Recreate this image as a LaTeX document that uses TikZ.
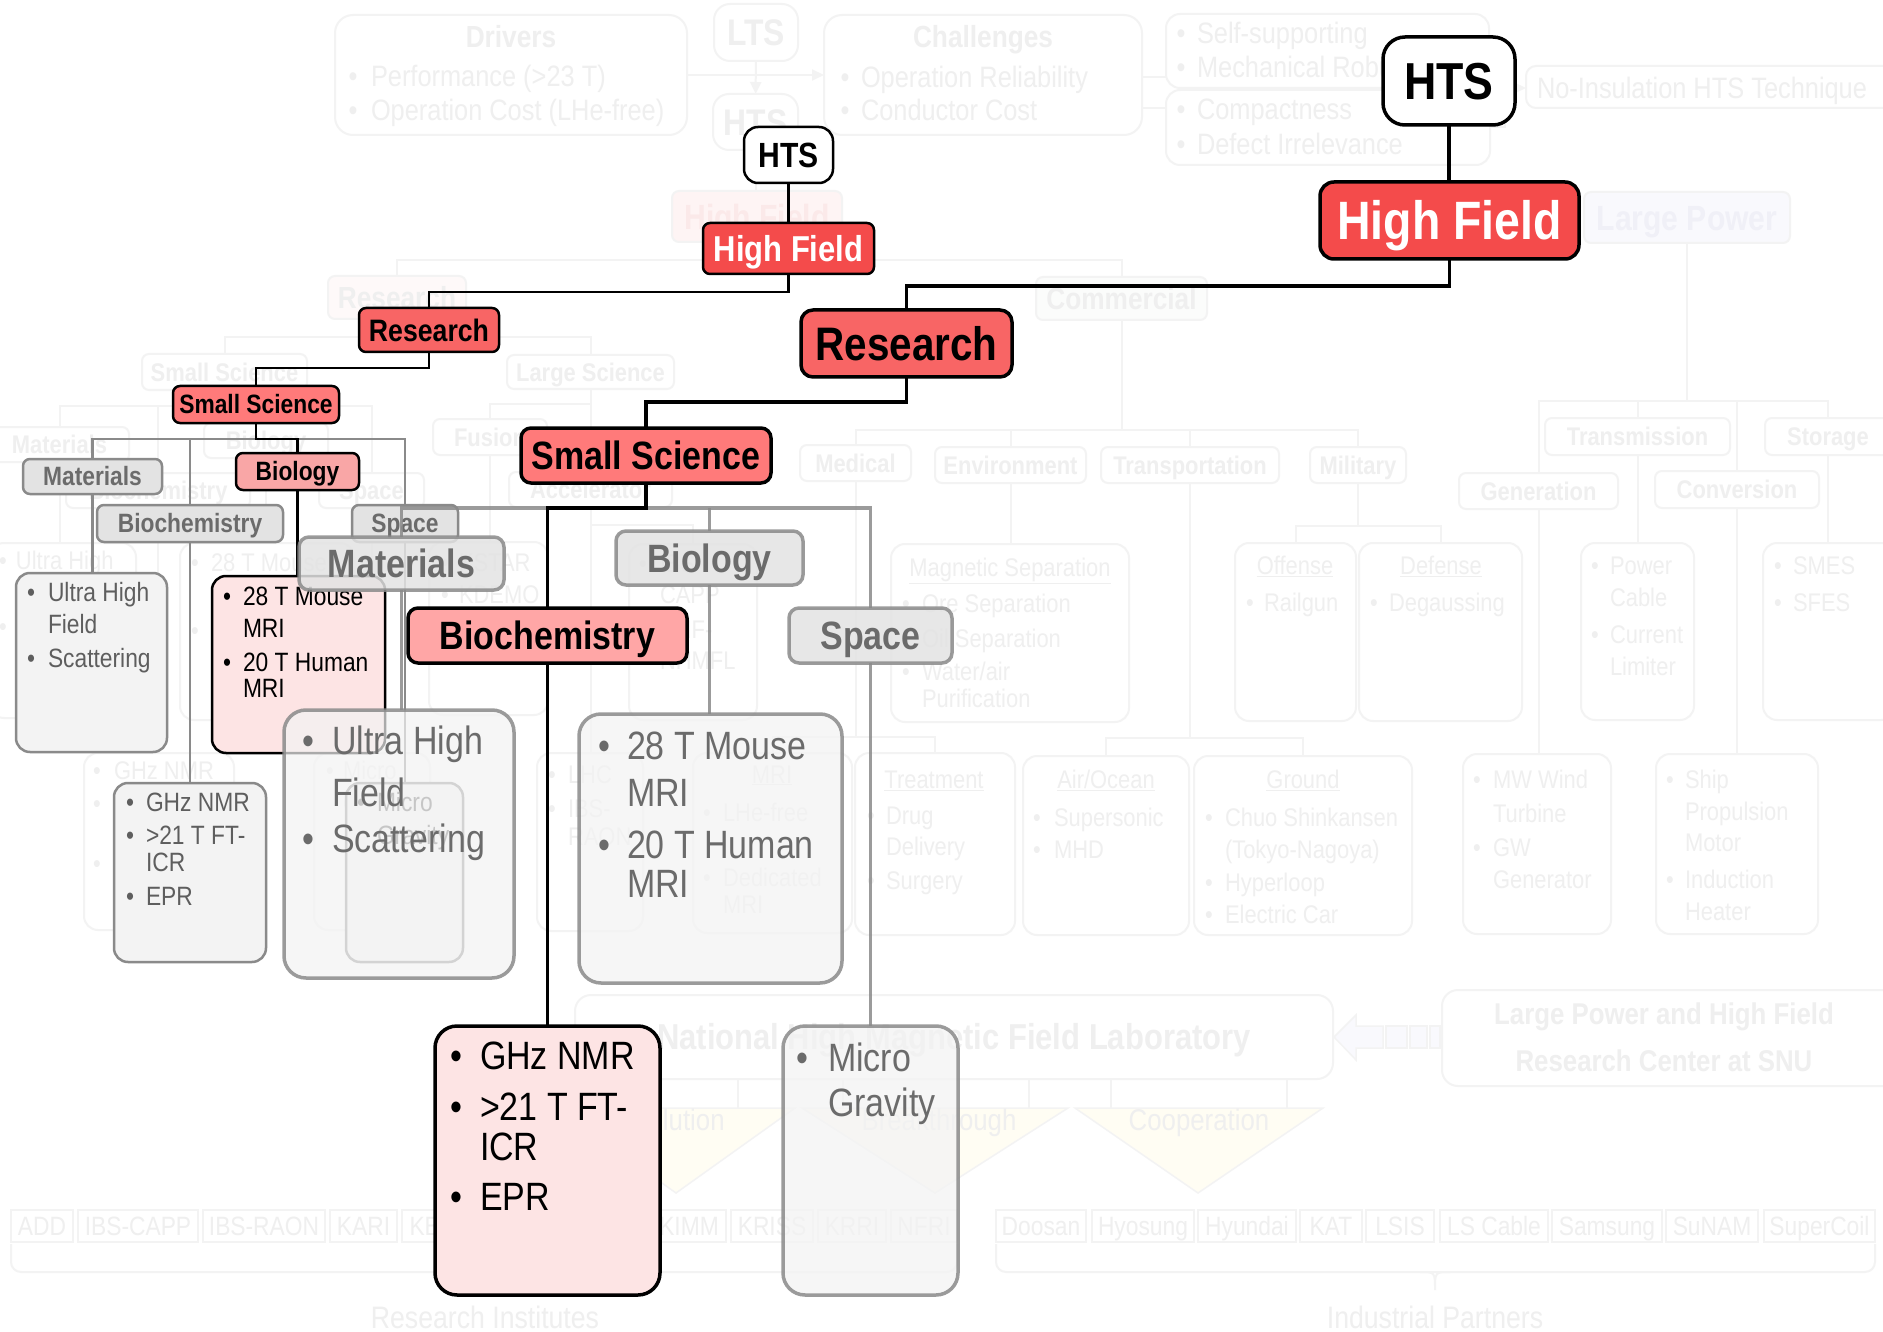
\documentclass[tikz,border=0pt]{standalone}
\usepackage{fontspec}
\setmainfont{Liberation Sans}[FakeStretch=0.86]
\usetikzlibrary{arrows.meta,calc}
\pgfdeclarelayer{L1}\pgfdeclarelayer{L2}\pgfdeclarelayer{L3}\pgfdeclarelayer{L4}
\pgfdeclarelayer{L5}\pgfdeclarelayer{L6}\pgfdeclarelayer{L7}
\pgfsetlayers{L1,L2,L3,L4,L5,L6,L7,main}
\newcommand\fsz[1]{\fontsize{#1}{#1}\selectfont}
% colours
\definecolor{hfred}{HTML}{F44B4B}
\definecolor{resred}{HTML}{F86565}
\definecolor{ssred}{HTML}{FF7A7A}
\definecolor{biopink}{HTML}{F9A6A6}
\definecolor{bcpink}{HTML}{FFA6A6}
\definecolor{detpink}{HTML}{FDE4E4}
\definecolor{gfill}{HTML}{E3E3E3}
\definecolor{gdet}{HTML}{F3F3F3}
\definecolor{gline}{HTML}{8A8A8A}
\definecolor{gtext}{HTML}{6B6B6B}
\definecolor{gtextm}{HTML}{5E5E5E}
\definecolor{ftext}{HTML}{EFEFEF}
\definecolor{fline}{HTML}{F3F3F3}
\definecolor{fpink}{HTML}{FEF4F4}
\definecolor{fpinkt}{HTML}{FBE9E9}
\definecolor{fpink2}{HTML}{FEF9F9}
\definecolor{flav}{HTML}{F9F9FD}
\definecolor{flavt}{HTML}{F0F0F7}
\definecolor{fgreen}{HTML}{FBFCFB}
\definecolor{fyel}{HTML}{FFFDF3}
% helpers: box from its edges, bullet line, continuation line
\newcounter{tl}
\newcommand\boxat[7]{\node[#1, minimum width={(#5)-(#3)}, minimum height={(#6)-(#4)}] (#2) at ({((#3)+(#5))/2},{((#4)+(#6))/2}) {#7};}
\newcommand\bul[5]{\stepcounter{tl}\node[#1,anchor=base] (b\arabic{tl}) at (#2,#4) {\textbullet};\node[#1] (t\arabic{tl}) at (#3,#4) {#5};}
\newcommand\cnt[4]{\stepcounter{tl}\node[#1] (t\arabic{tl}) at (#2,#3) {#4};}
\tikzset{
  every node/.style={inner sep=0pt, outer sep=0pt},
  fnt/.style={font=\bfseries\fsz{#1}, text height={0.716*#1}, text depth=0pt},
  fntr/.style={font=\fsz{#1}, text height={0.716*#1}, text depth=0pt},
  % faint layer
  flbl/.style={draw=fline, line width=2pt, rounded corners=7pt, fill=white, text=ftext, fnt=25.5},
  fdet/.style={draw=fline, line width=2pt, rounded corners=14pt, fill=white},
  fcn/.style={draw=fline, line width=2pt},
  far/.style={fcn, -{Triangle[length=12pt,width=11pt]}},
  ftt/.style={text=ftext, fnt=30.5},
  ftx/.style={text=ftext, font=\fsz{25.5}, anchor=base west, yshift=-9.1pt},
  ftxb/.style={text=ftext, font=\fsz{29.5}, anchor=base west, yshift=-10.6pt},
  finst/.style={draw=fline, line width=1.5pt, text=ftext, fntr=26.5, fill=white},
  % middle layer
  mcn/.style={draw=black, line width=2.5pt},
  mcng/.style={draw=gline, line width=2.5pt},
  mlbl/.style={draw=black, line width=2.5pt, rounded corners=7pt, fnt=26.5},
  mgl/.style={mlbl, draw=gline, fill=gfill, text=gtext},
  mdet/.style={draw=gline, line width=2.5pt, rounded corners=14pt, fill=gdet},
  mdetk/.style={draw=black, line width=2.5pt, rounded corners=14pt, fill=detpink},
  mtx/.style={text=gtextm, font=\fsz{26.5}, anchor=base west, yshift=-9.5pt},
  mtxk/.style={mtx, text=black},
  % front layer
  lcn/.style={draw=black, line width=3.5pt},
  lcng/.style={draw=gline, line width=3.5pt, draw opacity=0.85},
  llbl/.style={draw=black, line width=3.5pt, rounded corners=10pt, fnt=39.5},
  lgl/.style={llbl, draw=gline, fill=gfill, text=gtext, fill opacity=0.85, draw opacity=0.85, text opacity=1},
  ldet/.style={draw=gline, line width=3.5pt, rounded corners=22pt, fill=gdet, fill opacity=0.7, draw opacity=0.85},
  ldetk/.style={draw=black, line width=3.5pt, rounded corners=22pt, fill=detpink},
  ltx/.style={text=gtext, font=\fsz{39.5}, anchor=base west, yshift=-14.1pt},
  ltxk/.style={ltx, text=black},
}
\begin{document}
\begin{tikzpicture}[x=1pt,y=-1pt]
\useasboundingbox (0,0) rectangle (1883,1332);

%================ faint overview: boxes and texts ================
\begin{pgfonlayer}{L2}
% drivers / challenges strip
\boxat{fdet,rounded corners=18pt}{drv}{335}{15}{687}{135}{}
\node[ftt] (drvT) at (511,37) {Drivers};
\bul{ftxb}{353}{371}{76}{Performance (>23 T)}
\bul{ftxb}{353}{371}{110}{Operation Cost (LHe-free)}
\boxat{flbl,fnt=37,rounded corners=16pt}{lts}{714}{4}{798}{61}{LTS}
\boxat{flbl,fnt=37,rounded corners=16pt}{htsf}{713}{94}{798}{150}{HTS}
\boxat{fdet,rounded corners=18pt}{chl}{824}{15}{1142}{135}{}
\node[ftt] (chlT) at (983,37) {Challenges};
\bul{ftxb}{845}{861}{77}{Operation Reliability}
\bul{ftxb}{845}{861}{110}{Conductor Cost}
\boxat{fdet}{self}{1166}{14}{1489}{88}{}
\bul{ftxb}{1181}{1197}{33}{Self-supporting}
\bul{ftxb}{1181}{1197}{67}{Mechanical Robustness}
\boxat{fdet}{cmp}{1166}{90}{1490}{165}{}
\bul{ftxb}{1181}{1197}{109}{Compactness}
\bul{ftxb}{1181}{1197}{144}{Defect Irrelevance}
\boxat{fdet,rounded corners=10pt}{noins}{1526}{66}{1900}{108}{}
\cnt{ftxb}{1537}{88}{No-Insulation HTS Technique}

% overview tree labels
\boxat{flbl,fnt=35,fill=fpink,text=fpinkt}{hff}{672}{191}{842}{242}{High Field}
\boxat{flbl,fnt=35,fill=flav,text=flavt}{lpf}{1584}{192}{1790}{243}{Large Power}
\boxat{flbl,fnt=30.5,fill=fpink2}{resf}{328}{276}{466}{319}{Research}
\boxat{flbl,fnt=30.5,fill=fgreen}{comf}{1036}{277}{1207}{320}{Commercial}
\boxat{flbl}{ssf}{142}{354}{307}{390}{Small Science}
\boxat{flbl}{lsf}{507}{355}{674}{389}{Large Science}
\boxat{flbl}{matf}{-10}{427}{129}{462}{Materials}
\boxat{flbl}{biof}{204}{423}{328}{458}{Biology}
\boxat{flbl}{bchf}{66}{473}{250}{508}{Biochemistry}
\boxat{flbl}{spf}{319}{473}{424}{508}{Space}
\boxat{flbl}{fusf}{433}{419}{547}{455}{Fusion}
\boxat{flbl}{accf}{509}{472}{672}{507}{Accelerator}
\boxat{flbl}{medf}{800}{445}{911}{481}{Medical}
\boxat{flbl}{envf}{935}{447}{1086}{483}{Environment}
\boxat{flbl}{trpf}{1101}{447}{1279}{483}{Transportation}
\boxat{flbl}{milf}{1310}{447}{1406}{483}{Military}
\boxat{flbl}{tmsf}{1545}{418}{1730}{455}{Transmission}
\boxat{flbl}{stof}{1765}{418}{1891}{455}{Storage}
\boxat{flbl}{genf}{1459}{473}{1618}{509}{Generation}
\boxat{flbl}{cnvf}{1655}{471}{1819}{508}{Conversion}

% overview detail boxes
\boxat{fdet}{fuhf}{-10}{543}{136}{718}{}
\bul{ftx}{3}{16}{560}{Ultra High}\cnt{ftx}{16}{592}{Field}\bul{ftx}{3}{16}{626}{Scattering}
\boxat{fdet}{fmri}{180}{543}{354}{720}{}
\bul{ftx}{195}{211}{562}{28 T Mouse}\cnt{ftx}{211}{596}{MRI}
\bul{ftx}{195}{211}{630}{20 T Human}\cnt{ftx}{211}{662}{MRI}
\boxat{fdet}{fghz}{84}{753}{234}{930}{}
\bul{ftx}{97}{114}{770}{GHz NMR}\bul{ftx}{97}{114}{803}{>21 T FT-}\cnt{ftx}{114}{833}{ICR}
\bul{ftx}{97}{114}{863}{EPR}
\boxat{fdet}{fmic}{314}{753}{430}{930}{}
\bul{ftx}{330}{343}{770}{Micro}\cnt{ftx}{343}{803}{Gravity}
\boxat{fdet}{fkst}{429}{542}{548}{715}{}
\bul{ftx}{445}{459}{562}{KSTAR}\bul{ftx}{445}{459}{594}{KDEMO}
\boxat{fdet}{fcap}{629}{544}{757}{720}{}
\bul{ftx}{643}{660}{563}{IBS-}\cnt{ftx}{660}{594}{CAPP}
\bul{ftx}{643}{660}{629}{UHF-}\cnt{ftx}{660}{660}{NHMFL}
\boxat{fdet}{flhc}{537}{753}{643}{931}{}
\bul{ftx}{552}{568}{774}{LHC}\bul{ftx}{552}{568}{808}{IBS-}\cnt{ftx}{568}{836}{RAON}
\boxat{fdet}{fmrb}{693}{753}{852}{933}{}
\cnt{ftx,anchor=base}{772}{774}{\underline{MRI}}
\bul{ftx}{707}{723}{812}{LHe-free}\bul{ftx}{707}{723}{877}{Dedicated}\cnt{ftx}{723}{904}{MRI}
\boxat{fdet}{ftrt}{855}{753}{1015}{935}{}
\cnt{ftx,anchor=base}{934}{779}{\underline{Treatment}}
\bul{ftx}{871}{886}{815}{Drug}\cnt{ftx}{886}{846}{Delivery}\bul{ftx}{871}{886}{880}{Surgery}
\boxat{fdet}{fmag}{891}{544}{1129}{722}{}
\cnt{ftx,anchor=base}{1010}{567}{\underline{Magnetic Separation}}
\bul{ftx}{906}{922}{603}{Ore Separation}\bul{ftx}{906}{922}{638}{Oil Separation}
\bul{ftx}{906}{922}{671}{Water/air}\cnt{ftx}{922}{698}{Purification}
\boxat{fdet}{foff}{1235}{543}{1356}{721}{}
\cnt{ftx,anchor=base}{1295}{565}{\underline{Offense}}\bul{ftx}{1250}{1264}{602}{Railgun}
\boxat{fdet}{fdef}{1359}{543}{1522}{721}{}
\cnt{ftx,anchor=base}{1441}{565}{\underline{Defense}}\bul{ftx}{1374}{1389}{602}{Degaussing}
\boxat{fdet}{fair}{1023}{756}{1189}{935}{}
\cnt{ftx,anchor=base}{1106}{779}{\underline{Air/Ocean}}
\bul{ftx}{1037}{1054}{817}{Supersonic}\bul{ftx}{1037}{1054}{849}{MHD}
\boxat{fdet}{fgnd}{1194}{756}{1412}{935}{}
\cnt{ftx,anchor=base}{1303}{779}{\underline{Ground}}
\bul{ftx}{1209}{1225}{817}{Chuo Shinkansen}\cnt{ftx}{1225}{849}{(Tokyo-Nagoya)}
\bul{ftx}{1209}{1225}{882}{Hyperloop}\bul{ftx}{1209}{1225}{914}{Electric Car}
\boxat{fdet}{fpow}{1581}{543}{1694}{720}{}
\bul{ftx}{1595}{1610}{565}{Power}\cnt{ftx}{1610}{597}{Cable}
\bul{ftx}{1595}{1610}{634}{Current}\cnt{ftx}{1610}{666}{Limiter}
\boxat{fdet}{fsme}{1763}{543}{1895}{720}{}
\bul{ftx}{1778}{1793}{565}{SMES}\bul{ftx}{1778}{1793}{602}{SFES}
\boxat{fdet}{fwnd}{1463}{754}{1611}{934}{}
\bul{ftx}{1477}{1493}{779}{MW Wind}\cnt{ftx}{1493}{813}{Turbine}
\bul{ftx}{1477}{1493}{847}{GW}\cnt{ftx}{1493}{879}{Generator}
\boxat{fdet}{fshp}{1656}{754}{1818}{934}{}
\bul{ftx}{1670}{1685}{779}{Ship}\cnt{ftx}{1685}{811}{Propulsion}\cnt{ftx}{1685}{842}{Motor}
\bul{ftx}{1670}{1685}{879}{Induction}\cnt{ftx}{1685}{911}{Heater}

% laboratory, centre, partners
\boxat{fdet,rounded corners=16pt,text=ftext,fnt=36}{nhm}{575}{995}{1333}{1079}{National High Magnetic Field Laboratory}
\boxat{fdet,rounded corners=16pt}{snu}{1442}{990}{1900}{1086}{}
\node[ftt,fnt=30] (snuA) at (1664,1014) {Large Power and High Field};
\node[ftt,fnt=30] (snuB) at (1664,1061) {Research Center at SNU};
\filldraw[fill=flav, draw=fline, line width=1.5pt]
  (1334,1037) -- (1356,1015) -- (1356,1026) -- (1383,1026) -- (1383,1048) -- (1356,1048) -- (1356,1060) -- cycle;
\filldraw[fill=flav, draw=fline, line width=1.5pt] (1386,1026) rectangle (1407,1048);
\filldraw[fill=flav, draw=fline, line width=1.5pt] (1410,1026) rectangle (1427,1048);
\filldraw[fill=flav, draw=fline, line width=1.5pt] (1430,1026) rectangle (1440,1048);
\filldraw[fill=fyel, draw=fline, line width=1.5pt] (557,1108) -- (795,1108) -- (676,1193) -- cycle;
\filldraw[fill=fyel, draw=fline, line width=1.5pt] (802,1108) -- (1068,1108) -- (935,1193) -- cycle;
\filldraw[fill=fyel, draw=fline, line width=1.5pt] (1075,1108) -- (1323,1108) -- (1198,1193) -- cycle;
\foreach \xs in {738,843,1029,1111,1287} {\draw[fcn] (\xs,1079) -- (\xs,1108);}
\node[text=ftext, fntr=30] (sol) at (678,1120) {Solution};
\node[text=ftext, fntr=30] (brk) at (939,1120) {Breakthrough};
\node[text=ftext, fntr=30] (coo) at (1199,1120) {Cooperation};
\foreach \a/\b/\n [count=\i] in {11/73/ADD, 78/198/IBS-CAPP, 203/325/IBS-RAON, 330/397/KARI,
   402/469/KBSI, 474/542/KERI, 547/647/KIRAMS, 652/726/KIMM, 731/813/KRISS, 818/886/KRRI, 891/957/NFRI}
  {\boxat{finst}{ri\i}{\a}{1210}{\b}{1242}{\n}}
\foreach \a/\b/\n [count=\i] in {996/1086/Doosan, 1092/1194/Hyosung, 1198/1296/Hyundai, 1300/1362/KAT,
   1366/1434/LSIS, 1440/1548/LS Cable, 1552/1662/Samsung, 1666/1758/SuNAM, 1764/1875/SuperCoil}
  {\boxat{finst}{ip\i}{\a}{1210}{\b}{1242}{\n}}
\draw[fcn, rounded corners=10pt] (11,1244) -- (11,1272) -- (957,1272) -- (957,1244);
\draw[fcn] (470,1272) .. controls (485,1272) .. (485,1290) .. controls (485,1272) .. (500,1272);
\draw[fcn, rounded corners=10pt] (996,1244) -- (996,1272) -- (1875,1272) -- (1875,1244);
\draw[fcn] (1420,1272) .. controls (1435,1272) .. (1435,1290) .. controls (1435,1272) .. (1450,1272);
\node[text=ftext, fntr=31] (rinst) at (485,1317) {Research Institutes};
\node[text=ftext, fntr=31] (ipart) at (1435,1317) {Industrial Partners};
\end{pgfonlayer}

%================ faint overview: connectors ================
\begin{pgfonlayer}{L1}
\fill[white] (0,0) rectangle (1883,1332);
\draw[far] (drv) -- (chl);
\draw[far] (lts) -- (htsf);
\coordinate (tipA) at (1105,77);
\coordinate (tipB) at (1062,108);
\draw[far] (self.west |- tipA) -- (tipA);
\draw[far] (cmp.west |- tipB) -- (tipB);
\coordinate (brkt) at (1505,88);
\draw[fcn] (self.east) -| (brkt) |- (cmp.east);
\draw[far] (brkt) -- (noins.west |- brkt);
\draw[fcn] (htsf.south) -- (htsf.south |- hff.north);
\draw[fcn] (hff.south) -- ++(0,18) coordinate (fb1);
\draw[fcn] (resf.north) |- (comf.north |- fb1) -- (comf.north);
\draw[fcn] (resf.south) -- ++(0,18) coordinate (fb2);
\draw[fcn] (ssf.north) |- (lsf.north |- fb2) -- (lsf.north);
\draw[fcn] (ssf.south) -- ++(0,16) coordinate (fb3);
\draw[fcn] (matf.north) |- (spf.north |- fb3) -- (spf.north);
\draw[fcn] (biof.north) -- (biof.north |- fb3);
\draw[fcn] (bchf.north) -- (bchf.north |- fb3);
\draw[fcn] (lsf.south) -- (accf.north);
\draw[fcn] (lsf.south) -- ++(0,15) -| (fusf.north);
\draw[fcn] (comf.south) -- ++(0,110) coordinate (fb4);
\draw[fcn] (medf.north) |- (milf.north |- fb4) -- (milf.north);
\draw[fcn] (envf.north) -- (envf.north |- fb4);
\draw[fcn] (trpf.north) -- (trpf.north |- fb4);
\draw[fcn] (lpf.south) -- ++(0,158) coordinate (fb5);
\draw[fcn] (genf.north) |- (stof.north |- fb5) -- (stof.north);
\draw[fcn] (tmsf.north) -- (tmsf.north |- fb5);
\draw[fcn] (cnvf.north) -- (cnvf.north |- fb5);
\draw[fcn] (matf.south) -- (matf.south |- fuhf.north);
\draw[fcn] (biof.south) -- (biof.south |- fmri.north);
\draw[fcn] (bchf.south) -- (bchf.south |- fghz.north);
\draw[fcn] (spf.south) -- (spf.south |- fmic.north);
\draw[fcn] (fusf.south) -- (fusf.south |- fkst.north);
\draw[fcn] (accf.south) -- (accf.south |- flhc.north);
\draw[fcn] (accf.south) -- ++(0,18) -| (fcap.north);
\draw[fcn] (medf.south) -- ++(0,256) coordinate (fb6);
\draw[fcn] (fmrb.north) |- (ftrt.north |- fb6) -- (ftrt.north);
\draw[fcn] (envf.south) -- (envf.south |- fmag.north);
\draw[fcn] (milf.south) -- ++(0,43) coordinate (fb7);
\draw[fcn] (foff.north) |- (fdef.north |- fb7) -- (fdef.north);
\draw[fcn] (trpf.south) -- ++(0,255) coordinate (fb8);
\draw[fcn] (fair.north) |- (fgnd.north |- fb8) -- (fgnd.north);
\draw[fcn] (genf.south) -- (genf.south |- fwnd.north);
\draw[fcn] (tmsf.south) -- (tmsf.south |- fpow.north);
\draw[fcn] (cnvf.south) -- (cnvf.south |- fshp.north);
\draw[fcn] (stof.south) -- (stof.south |- fsme.north);
\end{pgfonlayer}

%================ middle tree ================
\begin{pgfonlayer}{L4}
\boxat{mlbl,fill=white,fnt=35,rounded corners=14pt}{mhts}{744}{127}{833}{183}{HTS}
\boxat{mlbl,fill=hfred,text=white,fnt=36}{mhf}{703}{223}{874}{274}{High Field}
\boxat{mlbl,fill=resred,fnt=31}{mres}{359}{308}{499}{352}{Research}
\boxat{mlbl,fill=ssred}{mss}{173}{386}{339}{423}{Small Science}
\boxat{mlbl,fill=biopink}{mbio}{236}{453}{359}{490}{Biology}
\boxat{mgl}{mmat}{23}{459}{162}{494}{Materials}
\boxat{mgl}{mbch}{97}{505}{283}{542}{Biochemistry}
\boxat{mgl}{mspc}{352}{505}{458}{542}{Space}
\boxat{mdet}{muhf}{16}{573}{167}{752}{}
\bul{mtx}{31}{48}{592}{Ultra High}\cnt{mtx}{48}{624}{Field}\bul{mtx}{31}{48}{658}{Scattering}
\boxat{mdetk}{mmri}{212}{576}{385}{753}{}
\bul{mtxk}{227}{243}{596}{28 T Mouse}\cnt{mtxk}{243}{628}{MRI}
\bul{mtxk}{227}{243}{662}{20 T Human}\cnt{mtxk}{243}{688}{MRI}
\boxat{mdet}{mghz}{114}{783}{266}{962}{}
\bul{mtx}{130}{146}{802}{GHz NMR}\bul{mtx}{130}{146}{835}{>21 T FT-}\cnt{mtx}{146}{862}{ICR}
\bul{mtx}{130}{146}{896}{EPR}
\boxat{mdet}{mmic}{346}{783}{463}{962}{}
\bul{mtx}{361}{377}{802}{Micro}\cnt{mtx}{377}{835}{Gravity}
\end{pgfonlayer}
\begin{pgfonlayer}{L3}
\draw[mcn] (mhts.south) -- (mhts.south |- mhf.north);
\draw[mcn] (mhf.south) -- ++(0,18) -| (mres.north);
\draw[mcn] (mres.south) -- ++(0,16) -| (mss.north);
\path (mss.south) ++(0,16) coordinate (mb1);
\draw[mcng] (mmat.north) |- (mspc.north |- mb1) -- (mspc.north);
\draw[mcng] (mbch.north) -- (mbch.north |- mb1);
\draw[mcn] (mss.south) -- ++(0,16) -| (mbio.north);
\draw[mcng] (mmat.south) -- (mmat.south |- muhf.north);
\draw[mcng] (mbch.south) -- (mbch.south |- mghz.north);
\draw[mcng] (mspc.south) -- (mspc.south |- mmic.north);
\draw[mcn] (mbio.south) -- (mbio.south |- mmri.north);
\end{pgfonlayer}

%================ front tree ================
\begin{pgfonlayer}{L6}
\boxat{lgl}{lmat}{299}{537}{504}{590}{Materials}
\boxat{lgl}{lbio}{616}{531}{803}{585}{Biology}
\boxat{lgl}{lspc}{789}{608}{952}{663}{Space}
\boxat{ldet}{luhf}{284}{710}{514}{978}{}
\bul{ltx}{308}{332}{740}{Ultra High}\cnt{ltx}{332}{792}{Field}\bul{ltx}{308}{332}{838}{Scattering}
\boxat{ldet}{lmri}{579}{714}{842}{983}{}
\bul{ltx}{604}{627}{745}{28 T Mouse}\cnt{ltx}{627}{792}{MRI}
\bul{ltx}{604}{627}{844}{20 T Human}\cnt{ltx}{627}{883}{MRI}
\boxat{ldet}{lmic}{783}{1026}{958}{1295}{}
\bul{ltx}{802}{828}{1057}{Micro}\cnt{ltx}{828}{1102}{Gravity}
\end{pgfonlayer}
\boxat{llbl,fill=white,fnt=52,rounded corners=22pt}{lhts}{1383}{37}{1515}{125}{HTS}
\boxat{llbl,fill=hfred,text=white,fnt=54,rounded corners=14pt}{lhf}{1320}{182}{1579}{259}{High Field}
\boxat{llbl,fill=resred,fnt=47,rounded corners=12pt}{lres}{801}{310}{1012}{377}{Research}
\boxat{llbl,fill=ssred}{lss}{521}{428}{771}{483}{Small Science}
\boxat{llbl,fill=bcpink}{lbch}{408}{608}{687}{663}{Biochemistry}
\boxat{ldetk}{lghz}{435}{1026}{660}{1295}{}
\bul{ltxk}{456}{480}{1055}{GHz NMR}\bul{ltxk}{456}{480}{1106}{>21 T FT-}\cnt{ltxk}{480}{1146}{ICR}
\bul{ltxk}{456}{480}{1196}{EPR}
\begin{pgfonlayer}{L5}
\path (lss.south) ++(0,25) coordinate (lb1);
\draw[lcng] (lmat.north) |- (lspc.north |- lb1) -- (lspc.north);
\draw[lcng] (lbio.north) -- (lbio.north |- lb1);
\draw[lcng] (lmat.south) -- (lmat.south |- luhf.north);
\draw[lcng] (lbio.south) -- (lbio.south |- lmri.north);
\draw[lcng] (lspc.south) -- (lspc.south |- lmic.north);
\end{pgfonlayer}
\begin{pgfonlayer}{L7}
\draw[lcn] (lhts.south) -- (lhts.south |- lhf.north);
\draw[lcn] (lhf.south) -- ++(0,27) -| (lres.north);
\draw[lcn] (lres.south) -- ++(0,25) -| (lss.north);
\draw[lcn] (lss.south) -- ++(0,25) -| (lbch.north);
\draw[lcn] (lbch.south) -- (lbch.south |- lghz.north);
\end{pgfonlayer}
\end{tikzpicture}
\end{document}
